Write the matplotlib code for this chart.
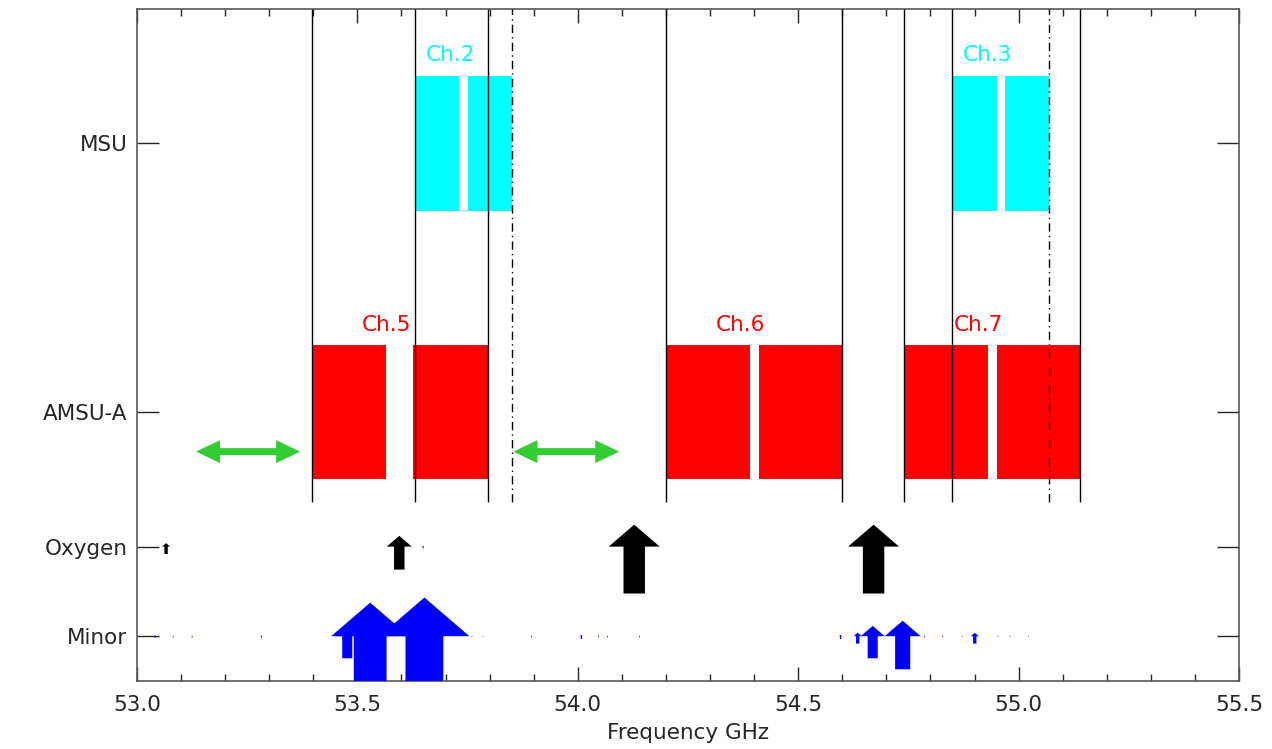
import matplotlib.pyplot as plt
from matplotlib.patches import Polygon
from matplotlib.ticker import MultipleLocator

# channel passbands (GHz)
amsu_names = ['Ch.5', 'Ch.6', 'Ch.7']
amsu_centre = [53.596, 54.40, 54.94]
amsu_bands = [[(53.396, 53.566), (53.626, 53.796)],
              [(54.20, 54.39), (54.41, 54.60)],
              [(54.74, 54.93), (54.95, 55.14)]]
msu_names = ['Ch.2', 'Ch.3']
msu_centre = [53.74, 54.96]
msu_bands = [[(53.63, 53.73), (53.75, 53.85)],
             [(54.85, 54.95), (54.97, 55.07)]]

# gaps marked with green double arrows
gaps = [(53.134, 53.370), (53.854, 54.094)]

# absorption lines: frequency and relative strength
oxygen_freq = [53.066, 53.595, 53.649, 54.128, 54.671]
oxygen_strength = [8, 25, 2, 51, 51]
minor_freq = [53.041, 53.082, 53.125, 53.282, 53.477, 53.529, 53.652, 53.76, 53.785,
              53.895, 54.008, 54.047, 54.067, 54.14, 54.596, 54.635, 54.669, 54.737,
              54.787, 54.828, 54.873, 54.9005, 54.953, 54.982, 55.023]
minor_strength = [2, 1.5, 1.5, 2, 24, 78, 90, 1, 1,
                  1.5, 3, 1.5, 1.5, 1.5, 3, 8, 24, 36,
                  1.5, 1.5, 1, 8, 1, 1, 1]

rows = ['Minor', 'Oxygen', 'AMSU-A', 'MSU']
row_y = [0.5, 1.5, 3.0, 6.0]

xmin, xmax = 53.0, 55.5
ymin, ymax = 0.0, 7.5

plt.rcParams['font.family'] = 'DejaVu Sans'
fig = plt.figure(figsize=(12.72, 7.49), dpi=100)
ax = fig.add_axes([137 / 1272, 68 / 749, 1102 / 1272, 672 / 749])
ax.set_xlim(xmin, xmax)
ax.set_ylim(ymin, ymax)

# pixels per data unit, to size the arrows in pixels
sx = 1102 / (xmax - xmin)
sy = 672 / (ymax - ymin)


def line_arrow(f, y0, w, color):
    # arrow whose head sits on the row line and shaft hangs below it
    hw, h, sw, sl = w / 2 / sx, 0.43 * w / sy, 0.21 * w / sx, 0.92 * w / sy
    pts = [(f, y0 + h), (f + hw, y0), (f + sw, y0), (f + sw, y0 - sl),
           (f - sw, y0 - sl), (f - sw, y0), (f - hw, y0)]
    ax.add_patch(Polygon(pts, closed=True, color=color, lw=0, zorder=4))


def double_arrow(x0, x1, y0, color):
    hl, hh, th = 24 / sx, 11.5 / sy, 3.5 / sy
    pts = [(x0, y0), (x0 + hl, y0 + hh), (x0 + hl, y0 + th), (x1 - hl, y0 + th),
           (x1 - hl, y0 + hh), (x1, y0), (x1 - hl, y0 - hh), (x1 - hl, y0 - th),
           (x0 + hl, y0 - th), (x0 + hl, y0 - hh)]
    ax.add_patch(Polygon(pts, closed=True, color=color, lw=0, zorder=3))


# AMSU-A and MSU passbands
for name, c, bands in zip(amsu_names, amsu_centre, amsu_bands):
    for lo, hi in bands:
        ax.bar(lo, 1.5, width=hi - lo, bottom=row_y[2] - 0.75, align='edge',
               color='red', lw=0, zorder=2)
    ax.text(c - 0.03, row_y[2] + 0.97, name, color='red', fontsize=15.5,
            ha='center', va='center')
    ax.vlines([bands[0][0], bands[-1][1]], 2.0, ymax, colors='k', lw=1.0, zorder=3)

for name, c, bands in zip(msu_names, msu_centre, msu_bands):
    for lo, hi in bands:
        ax.bar(lo, 1.5, width=hi - lo, bottom=row_y[3] - 0.75, align='edge',
               color='cyan', lw=0, zorder=2)
    ax.text(c - 0.03, row_y[3] + 0.99, name, color='cyan', fontsize=15.5,
            ha='center', va='center')
    ax.vlines(bands[0][0], 2.0, ymax, colors='k', lw=1.0, zorder=3)
    ax.vlines(bands[-1][1], 2.0, ymax, colors='k', lw=1.0, zorder=3,
              linestyles=[(0, (6, 3, 1, 3))])

for x0, x1 in gaps:
    double_arrow(x0, x1, 2.56, 'limegreen')

for f, s in zip(oxygen_freq, oxygen_strength):
    line_arrow(f, row_y[1], s, 'black')
for f, s in zip(minor_freq, minor_strength):
    line_arrow(f, row_y[0], s, 'blue')

# axes styling
ax.set_yticks(row_y)
ax.set_yticklabels(rows)
ax.xaxis.set_major_locator(MultipleLocator(0.5))
ax.xaxis.set_minor_locator(MultipleLocator(0.1))
ax.xaxis.set_major_formatter(plt.FormatStrFormatter('%.1f'))
ax.tick_params(axis='x', which='major', direction='in', length=10, width=1,
               top=True, labelsize=15.5, pad=10, colors='0.15')
ax.tick_params(axis='x', which='minor', direction='in', length=5, width=1, top=True,
               colors='0.15')
ax.tick_params(axis='y', which='major', direction='in', length=15.5, width=1,
               right=True, labelsize=15.5, pad=7, colors='0.15')
for sp in ax.spines.values():
    sp.set_color('0.35')
    sp.set_linewidth(1.2)
ax.set_xlabel('Frequency GHz', fontsize=15.5, labelpad=6, color='0.15')

fig.savefig('out.png', dpi=100)
